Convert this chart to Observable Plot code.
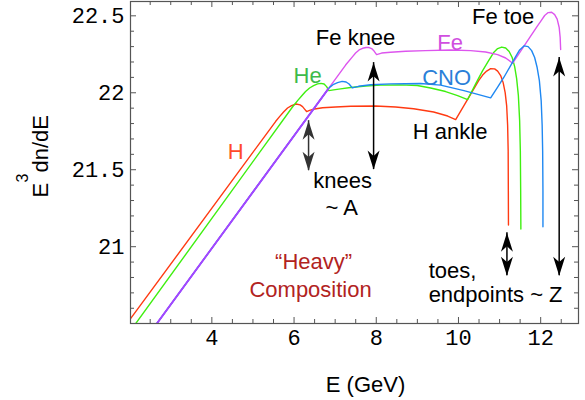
<!DOCTYPE html>
<html><head><meta charset="utf-8">
<script src="https://cdn.jsdelivr.net/npm/d3@7"></script>
<script src="https://cdn.jsdelivr.net/npm/@observablehq/plot@0.6"></script>
<style>html,body{margin:0;padding:0;background:#fff;}</style>
</head><body>
<div id="chart"></div>
<script>
// ---- tick values ----
const xTicks = [4, 6, 8, 10, 12];
const xMinor = [2.5, 3, 3.5, 4.5, 5, 5.5, 6.5, 7, 7.5, 8.5, 9, 9.5, 10.5, 11, 11.5, 12.5];
const yTicks = [21, 21.5, 22, 22.5];
const yMinor = [20.6, 20.7, 20.8, 20.9, 21.1, 21.2, 21.3, 21.4, 21.6, 21.7, 21.8, 21.9, 22.1, 22.2, 22.3, 22.4];

// ---- H (proton) ----
const hE = [2.0, 5.550, 5.647, 5.745, 5.842, 5.939, 6.049, 6.147, 6.207, 6.256, 6.305, 6.378, 6.499, 6.694, 7.010, 7.376, 7.985, 8.471, 8.909, 9.396, 9.737, 9.932,
  10.491, 10.588, 10.686, 10.783, 10.880, 10.953, 11.026, 11.087, 11.136, 11.172, 11.196, 11.209, 11.213, 11.216];
const hY = [20.524, 21.813, 21.845, 21.875, 21.901, 21.917, 21.927, 21.921, 21.910, 21.894, 21.878, 21.886, 21.895, 21.903, 21.908, 21.912, 21.914, 21.908, 21.896, 21.875, 21.849, 21.826,
  22.079, 22.115, 22.141, 22.157, 22.155, 22.141, 22.112, 22.066, 22.001, 21.917, 21.787, 21.624, 21.364, 21.141];

// ---- He ----
const heE = [2.1, 5.957, 6.086, 6.183, 6.280, 6.378, 6.475, 6.572, 6.658, 6.731, 6.792, 6.847, 6.962, 7.132, 7.376, 7.741, 8.106, 8.592, 8.999, 9.322, 9.687, 9.979, 10.223,
  10.418, 10.588, 10.734, 10.856, 10.953, 11.051, 11.148, 11.233, 11.306, 11.367, 11.415, 11.457, 11.488, 11.505, 11.513, 11.518];
const heY = [20.483, 21.906, 21.949, 21.979, 22.008, 22.031, 22.047, 22.058, 22.061, 22.057, 22.040, 22.014, 22.019, 22.025, 22.034, 22.044, 22.050, 22.051, 22.047, 22.031, 22.008, 21.982, 21.956,
  22.058, 22.144, 22.209, 22.261, 22.287, 22.297, 22.291, 22.268, 22.229, 22.170, 22.092, 21.982, 21.819, 21.624, 21.364, 21.115];

// ---- shared rise of CNO and Fe (they coincide below the CNO knee) ----
const riseE = [2.6, 6.828];
const riseY = [20.478, 22.024];

// ---- CNO (after leaving the shared rise) ----
const cnoE = [6.889, 6.962, 7.059, 7.169, 7.266, 7.339, 7.417, 7.570, 7.862, 8.349, 9.079, 9.566, 10.133, 10.783,
  10.953, 11.106, 11.269, 11.391, 11.488, 11.598, 11.695, 11.780, 11.853, 11.914, 11.968, 12.012, 12.036, 12.048, 12.055, 12.055];
const cnoY = [22.040, 22.055, 22.066, 22.074, 22.070, 22.057, 22.032, 22.042, 22.052, 22.058, 22.060, 22.050, 22.014, 21.967,
  22.037, 22.101, 22.177, 22.235, 22.278, 22.305, 22.300, 22.274, 22.229, 22.164, 22.079, 21.949, 21.787, 21.624, 21.364, 21.130];

// ---- Fe (after leaving the shared rise) ----
const feE = [7.254, 7.424, 7.497, 7.582, 7.667, 7.753, 7.826, 7.887, 7.947, 8.008, 8.130, 8.349, 8.714, 9.200, 9.809, 10.296, 10.661, 10.953, 11.148, 11.318,
  11.513, 11.707, 11.902, 12.012, 12.097, 12.182, 12.267, 12.340, 12.401, 12.450, 12.474, 12.486];
const feY = [22.180, 22.235, 22.258, 22.278, 22.289, 22.294, 22.294, 22.287, 22.271, 22.248, 22.258, 22.263, 22.270, 22.274, 22.278, 22.274, 22.265, 22.248, 22.226, 22.192,
  22.270, 22.348, 22.427, 22.469, 22.502, 22.521, 22.523, 22.508, 22.479, 22.424, 22.359, 22.281];

// ---- annotations ----
const labelText = ["H", "He", "CNO", "Fe", "Fe knee", "Fe toe", "H ankle", "knees", "~ A", "\u201cHeavy\u201d", "Composition"];
const labelE    = [4.577, 6.329, 9.712, 9.797, 7.497, 11.087, 9.797, 7.181, 7.157, 6.475, 6.402];
const labelY    = [21.618, 22.112, 22.096, 22.326, 22.359, 22.495, 21.744, 21.426, 21.254, 20.902, 20.720];
const labelKind = ["H", "He", "CNO", "Fe", "note", "note", "note", "note", "note", "comp", "comp"];

const leftText = ["toes,", "endpoints ~ Z"];
const leftE    = [9.274, 9.274];
const leftY    = [20.844, 20.688];

// ---- double arrows ----
const arrowE      = [6.353, 7.935, 11.179, 12.45];
const arrowTop    = [21.819, 22.196, 21.091, 22.229];
const arrowBottom = [21.494, 21.501, 20.811, 20.811];
const arrowKind   = ["grey", "black", "black", "black"];

// ---- styles ----
const lineColor = {H: "#ff3a12", He: "#3fef10", CNO: "#1f88f2", Fe: "#dd55ee", rise: "#a346ff"};
const textColor = {H: "#ff4a2a", He: "#3dbb4b", CNO: "#2a7fd8", Fe: "#d04ee0", note: "#000", comp: "#b2231e"};
const arrowColor = {grey: "#333", black: "#000"};

const sans = "'Liberation Sans', Arial, Helvetica, sans-serif";
const mono = "'Liberation Mono', 'Courier New', monospace";

const W = 585, H = 400, mL = 130, mR = 7, mT = 1, mB = 77;
const fw = W - mL - mR, fh = H - mT - mB;

const pts = (E, Y) => E.map((e, i) => ({E: e, y: Y[i]}));
const hRows = pts(hE, hY);
const heRows = pts(heE, heY);
const riseRows = pts(riseE, riseY);
const cnoRows = riseRows.concat(pts(cnoE, cnoY));
const feRows = riseRows.concat(pts(feE, feY));
const labels = labelText.map((t, i) => ({t, E: labelE[i], y: labelY[i], k: labelKind[i]}));
const lefts = leftText.map((t, i) => ({t, E: leftE[i], y: leftY[i]}));
const arrows = arrowE.map((e, i) => ({E: e, top: arrowTop[i], bottom: arrowBottom[i], k: arrowKind[i]}));

const head = {
  draw(ctx, l, r) {
    ctx.moveTo(0, -l);
    ctx.lineTo(r, 0);
    ctx.lineTo(0, -l * 0.28);
    ctx.lineTo(-r, 0);
    ctx.closePath();
  }
};

const marks = [
  // curves
  Plot.line(hRows, {x: "E", y: "y", stroke: lineColor.H, strokeWidth: 1.4, clip: true}),
  Plot.line(heRows, {x: "E", y: "y", stroke: lineColor.He, strokeWidth: 1.4, clip: true}),
  Plot.line(feRows, {x: "E", y: "y", stroke: lineColor.Fe, strokeWidth: 1.4, clip: true}),
  Plot.line(cnoRows, {x: "E", y: "y", stroke: lineColor.CNO, strokeWidth: 1.4, clip: true}),
  Plot.line(riseRows, {x: "E", y: "y", stroke: lineColor.rise, strokeWidth: 1.9, clip: true}),
  // arrows
  Plot.ruleX(arrows, {x: "E", y1: "top", y2: "bottom", stroke: d => arrowColor[d.k], strokeWidth: 1.5}),
  Plot.vector(arrows.filter(d => d.k === "grey"), {x: "E", y: "top", length: 19, r: 6, anchor: "end", rotate: 0, shape: head, fill: arrowColor.grey, stroke: "none"}),
  Plot.vector(arrows.filter(d => d.k === "grey"), {x: "E", y: "bottom", length: 19, r: 6, anchor: "end", rotate: 180, shape: head, fill: arrowColor.grey, stroke: "none"}),
  Plot.vector(arrows.filter(d => d.k === "black"), {x: "E", y: "top", length: 19, r: 6, anchor: "end", rotate: 0, shape: head, fill: arrowColor.black, stroke: "none"}),
  Plot.vector(arrows.filter(d => d.k === "black"), {x: "E", y: "bottom", length: 19, r: 6, anchor: "end", rotate: 180, shape: head, fill: arrowColor.black, stroke: "none"}),
  // annotations
  Plot.text(labels, {x: "E", y: "y", text: "t", fill: d => textColor[d.k], fontSize: 22, fontFamily: sans}),
  Plot.text(lefts, {x: "E", y: "y", text: "t", fill: "#000", fontSize: 22, fontFamily: sans, textAnchor: "start"}),
  // ticks (inward, all four sides)
  Plot.tickX(xTicks, {x: d => d, stroke: "#555", insetTop: fh - 6}),
  Plot.tickX(xTicks, {x: d => d, stroke: "#555", insetBottom: fh - 6}),
  Plot.tickX(xMinor, {x: d => d, stroke: "#555", insetTop: fh - 4}),
  Plot.tickX(xMinor, {x: d => d, stroke: "#555", insetBottom: fh - 4}),
  Plot.tickY(yTicks, {y: d => d, stroke: "#555", insetRight: fw - 6}),
  Plot.tickY(yTicks, {y: d => d, stroke: "#555", insetLeft: fw - 6}),
  Plot.tickY(yMinor, {y: d => d, stroke: "#555", insetRight: fw - 4}),
  Plot.tickY(yMinor, {y: d => d, stroke: "#555", insetLeft: fw - 4}),
  Plot.axisX({ticks: xTicks, tickSize: 0, tickPadding: 6, fontSize: 22, fontFamily: mono, label: null, fill: "#000", tickFormat: d => String(d)}),
  Plot.axisY({ticks: yTicks, tickSize: 0, tickPadding: 6, fontSize: 22, fontFamily: mono, label: null, fill: "#000", tickFormat: d => String(d)}),
  Plot.frame({stroke: "#555", strokeWidth: 1.2}),
  // axis titles
  Plot.text(["E (GeV)"], {text: d => d, frameAnchor: "bottom", dx: 11, dy: 68, lineAnchor: "bottom", fontSize: 22, fontFamily: sans, fill: "#000"}),
  Plot.text(["E"], {text: d => d, frameAnchor: "left", dx: -83, dy: 35, rotate: -90, textAnchor: "start", lineAnchor: "bottom", fontSize: 22, fontFamily: sans, fill: "#000"}),
  Plot.text(["3"], {text: d => d, frameAnchor: "left", dx: -103, dy: 20, rotate: -90, textAnchor: "start", lineAnchor: "bottom", fontSize: 16, fontFamily: sans, fill: "#000"}),
  Plot.text(["dn/dE"], {text: d => d, frameAnchor: "left", dx: -83, dy: 10, rotate: -90, textAnchor: "start", lineAnchor: "bottom", fontSize: 22, fontFamily: sans, fill: "#000"})
];

const chart = Plot.plot({
  width: W, height: H,
  marginLeft: mL, marginRight: mR, marginTop: mT, marginBottom: mB,
  x: {domain: [2.021, 12.92], axis: null},
  y: {domain: [20.501, 22.593], axis: null},
  style: {background: "#fff", color: "#000", fontFamily: sans},
  marks
});
document.getElementById("chart").appendChild(chart);
</script>
</body></html>
